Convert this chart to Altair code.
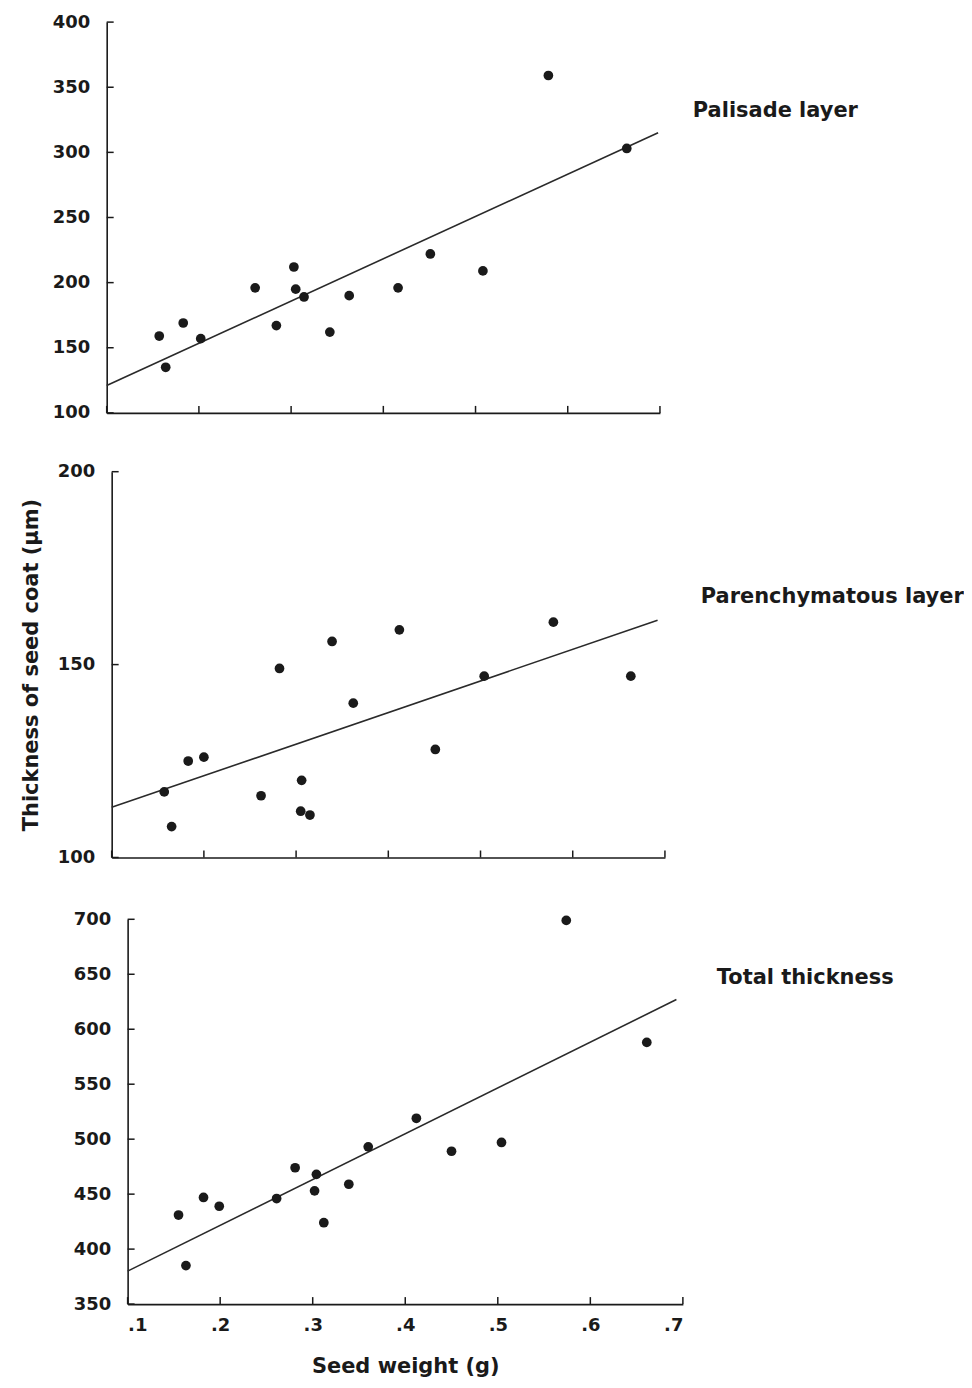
import altair as alt
import pandas as pd

# ---------------- data ----------------
pal_x = [0.157, 0.164, 0.183, 0.202, 0.261, 0.284, 0.303, 0.305, 0.314, 0.342, 0.363, 0.416, 0.451, 0.508, 0.579, 0.664]
pal_y = [159, 135, 169, 157, 196, 167, 212, 195, 189, 162, 190, 196, 222, 209, 359, 303]
pal_line_x = [0.1, 0.698]
pal_line_y = [121, 315]

par_x = [0.157, 0.165, 0.183, 0.200, 0.262, 0.282, 0.306, 0.305, 0.315, 0.339, 0.362, 0.412, 0.451, 0.504, 0.579, 0.663]
par_y = [117, 108, 125, 126, 116, 149, 120, 112, 111, 156, 140, 159, 128, 147, 161, 147]
par_line_x = [0.1, 0.692]
par_line_y = [113, 161.5]

tot_x = [0.155, 0.163, 0.182, 0.199, 0.261, 0.281, 0.304, 0.302, 0.312, 0.339, 0.360, 0.412, 0.450, 0.504, 0.574, 0.661]
tot_y = [431, 385, 447, 439, 446, 474, 468, 453, 424, 459, 493, 519, 489, 497, 699, 588]
tot_line_x = [0.1, 0.693]
tot_line_y = [380, 627]

x_ticks = [0.1, 0.2, 0.3, 0.4, 0.5, 0.6, 0.7]
pal_ticks = [100, 150, 200, 250, 300, 350, 400]
par_ticks = [100, 150, 200]
tot_ticks = [350, 400, 450, 500, 550, 600, 650, 700]

panel_labels = ["Palisade layer", "Parenchymatous layer", "Total thickness"]
y_title = "Thickness of seed coat (\u03bcm)"
x_title = "Seed weight (g)"

FONT = "DejaVu Sans"
INK = "#1a1a1a"


def panel(xs, ys, lx, ly, ydom, yticks, label, lab_x, lab_y, inset, plot_w, h,
          show_xlabels, xext, ytitle=None, xtitle=None):
    # inset: how far (px) this panel's axes sit to the right of the shared origin
    w = inset + plot_w
    xscale = alt.Scale(domain=[0.1, 0.7], nice=False, zero=False, range=[inset, w])
    yscale = alt.Scale(domain=ydom, nice=False, zero=False)
    xaxis = alt.Axis(values=x_ticks, ticks=False, labels=show_xlabels,
                     labelExpr="substring(format(datum.value, '.1f'), 1)",
                     labelPadding=12, minExtent=xext, maxExtent=xext,
                     title=xtitle, titlePadding=22, grid=False)
    yaxis = alt.Axis(values=yticks, ticks=False, labelPadding=17,
                     minExtent=56, maxExtent=56, offset=-inset, title=ytitle,
                     titlePadding=14, grid=False)
    xenc = alt.X("x:Q", scale=xscale, axis=xaxis)
    yenc = alt.Y("y:Q", scale=yscale, axis=yaxis)

    pts = alt.Chart(pd.DataFrame({"x": xs, "y": ys})).mark_circle(
        size=95, color=INK, opacity=1).encode(x=xenc, y=yenc)
    line = alt.Chart(pd.DataFrame({"x": lx, "y": ly})).mark_line(
        color="#2a2a2a", strokeWidth=1.6).encode(x=xenc, y=yenc)
    ytk = alt.Chart(pd.DataFrame({"y": yticks})).mark_rule(
        color=INK, strokeWidth=1.5).encode(y=yenc, x=alt.value(inset), x2=alt.value(inset + 7))
    xtk = alt.Chart(pd.DataFrame({"x": x_ticks})).mark_rule(
        color=INK, strokeWidth=1.5).encode(x=xenc, y=alt.value(h), y2=alt.value(h - 7))
    txt = alt.Chart(pd.DataFrame({"t": [label]})).mark_text(
        align="left", baseline="middle", font=FONT, fontSize=21,
        fontWeight="bold", color=INK
    ).encode(text="t:N", x=alt.value(lab_x), y=alt.value(lab_y))
    return alt.layer(line, pts, ytk, xtk, txt).properties(width=w, height=h)


p1 = panel(pal_x, pal_y, pal_line_x, pal_line_y, [100, 400], pal_ticks,
           panel_labels[0], 588, 89, 0, 555, 392, False, 0)
p2 = panel(par_x, par_y, par_line_x, par_line_y, [100, 200], par_ticks,
           panel_labels[1], 596, 126, 5, 555, 387, False, 12, ytitle=y_title)
p3 = panel(tot_x, tot_y, tot_line_x, tot_line_y, [350, 700], tot_ticks,
           panel_labels[2], 612, 59, 21, 557, 386, True, 30, xtitle=x_title)

chart = alt.concat(p1, p2, p3, columns=1, spacing=41).properties(
    padding={"left": 13, "top": 3, "right": 0, "bottom": 0},
    background="white",
).configure_view(strokeWidth=0).configure_axis(
    domainColor=INK, domainWidth=1.6,
    labelFont=FONT, labelFontSize=18, labelFontWeight="bold", labelColor=INK,
    titleFont=FONT, titleFontSize=21, titleFontWeight="bold", titleColor=INK,
)

chart.save("out.html", embed_options={"renderer": "svg", "actions": False})
